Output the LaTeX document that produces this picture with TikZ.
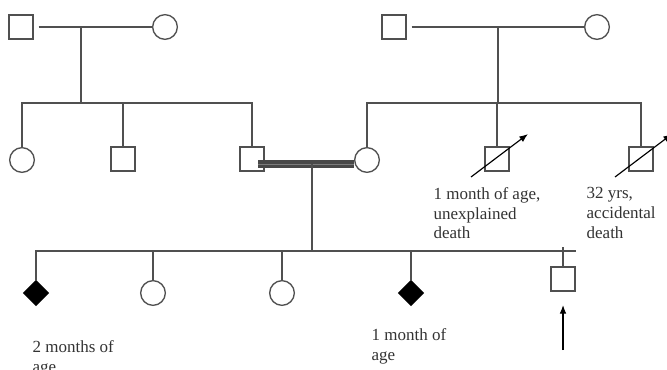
\documentclass[tikz,border=0pt]{standalone}
\usepackage{fontspec}
\setmainfont{Liberation Serif}
\usetikzlibrary{arrows.meta,shapes.geometric}
\definecolor{pedline}{HTML}{505050}
\definecolor{pedtext}{HTML}{333333}

\begin{document}
\begin{tikzpicture}[x=0.03cm, y=-0.03cm,
	line width=0.04cm, draw=pedline,
	male/.style={draw=pedline, rectangle, minimum size=0.72cm, inner sep=0pt},
	female/.style={draw=pedline, circle, minimum size=0.74cm, inner sep=0pt},
	affected/.style={draw=black, fill=black, diamond, minimum width=0.75cm, minimum height=0.75cm, inner sep=0pt},
	deceased/.style={draw=black, line width=0.035cm, -{Latex[length=0.26cm,width=0.2cm]}},
	marriage/.style={draw=pedline!90!black, line width=0.11cm, double=pedline!75, double distance=0.012cm},
	note/.style={anchor=north west, align=left, inner sep=0pt, text=pedtext,
		font=\fontsize{14.5pt}{16.8pt}\selectfont}]
		\useasboundingbox (0,0) rectangle (667,370);
		%%%%% START %%%%%
		% first grandparents
		\node[male] (gf1) at (21,27) {};
		\node[female] (gm1) at (165,27) {};
		\draw ([xshift=0.15cm]gf1.east) -- (gm1.west);
		\coordinate (mate1) at (81,27);
		\coordinate (sib1) at (81,103);
		\draw (mate1) -- (sib1);
		
		% second grandparents
		\node[male] (gf2) at (394,27) {};
		\node[female] (gm2) at (597,27) {};
		\draw ([xshift=0.15cm]gf2.east) -- (gm2.west);
		\coordinate (mate2) at (498,27);
		\coordinate (sib2) at (498,103);
		\draw (mate2) -- (sib2);
		
		% parents generation
		\node[female] (aunt) at (22,160) {};
		\node[male] (uncle) at (123,159) {};
		\node[male] (father) at (252,159) {};
		\node[female] (mother) at (367,160) {};
		\node[male] (uncle2) at (497,159) {};
		\node[male] (uncle3) at (641,159) {};
		
		\draw (aunt.north) |- (sib1) -| (father.north);
		\draw (uncle.north) -- (uncle.north |- sib1);
		\draw (mother.north) |- (sib2) -| (uncle3.north);
		\draw (uncle2.north) -- (uncle2.north |- sib2);
		
		\draw[deceased] ([shift={(-26,18)}]uncle2.center) -- ([shift={(31,-25)}]uncle2.center);
		\draw[deceased] ([shift={(-26,18)}]uncle3.center) -- ([shift={(31,-25)}]uncle3.center);
		
		% consanguineous marriage
		\draw[marriage] ([shift={(6,5)}]father.center) -- ([yshift=-0.12cm]mother.west);
		\coordinate (mate3) at (312,164);
		\coordinate (sib3) at (312,251);
		\draw (mate3) -- (sib3);
		
		% children
		\node[affected] (c1) at (36,293) {};
		\node[female] (c2) at (153,293) {};
		\node[female] (c3) at (282,293) {};
		\node[affected] (c4) at (411,293) {};
		\node[male] (c5) at (563,279) {};
		\coordinate (sibend) at (576,251);
		\coordinate (tick) at (563,247);
		
		\draw (c1.north) |- (sibend);
		\draw (c2.north) -- (c2.north |- sib3);
		\draw (c3.north) -- (c3.north |- sib3);
		\draw (c4.north) -- (c4.north |- sib3);
		\draw (c5.north) -- (tick);
		
		% proband
		\coordinate (prb) at (563,350);
		\draw[deceased, shorten >=0.4cm] (prb) -- (c5.south);
		
		% notes
		\node[note] (n1) at (433,187) {1 month of age,\\unexplained\\death};
		\node[note] (n2) at (586,187) {32 yrs,\\accidental\\death};
		\node[note] (n3) at (32,340) {2 months of\\age};
		\node[note] (n4) at (371,328) {1 month of\\age};
		%%%%% END %%%%%
	\end{tikzpicture}
\end{document}
